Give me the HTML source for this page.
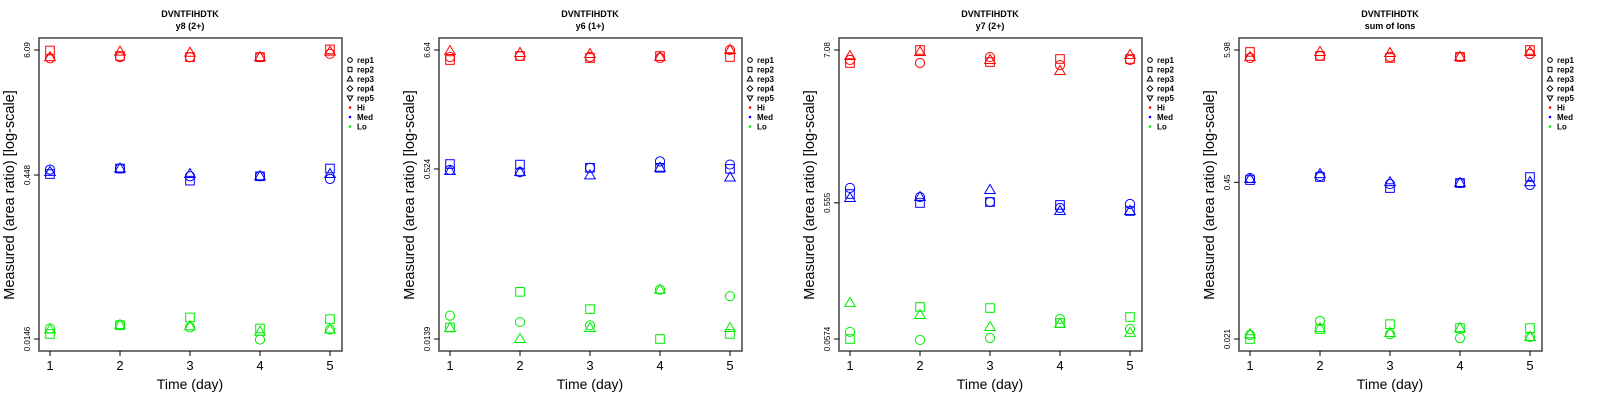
<!DOCTYPE html>
<html><head><meta charset="utf-8"><style>
html,body{margin:0;padding:0;background:#fff;}
svg{display:block;font-family:"Liberation Sans",sans-serif;}
</style></head><body>
<svg id="chart" width="1600" height="400" viewBox="0 0 1600 400" xmlns="http://www.w3.org/2000/svg"></svg>
<script>
// Panel metadata
const panelTitles = ["y8 (2+)", "y6 (1+)", "y7 (2+)", "sum of Ions"];
const yTickLabels = [["6.09","0.448","0.0146"],["6.64","0.524","0.0139"],["7.08","0.555","0.0574"],["5.98","0.45","0.021"]];
const yTickValues = [[6.09,0.448,0.0146],[6.64,0.524,0.0139],[7.08,0.555,0.0574],[5.98,0.45,0.021]];
const days = [1,2,3,4,5];
const levels = ["Hi","Med","Lo"];
const reps = ["rep1","rep2","rep3"];
// log10(area ratio): [panel][level][rep][day]
const p1Hi = [[.71,.72,.72,.72,.75],[.78,.73,.72,.72,.79],[.72,.77,.76,.72,.77]];
const p1Med = [[-.30,-.29,-.36,-.36,-.385],[-.34,-.29,-.40,-.36,-.29],[-.32,-.29,-.34,-.36,-.34]];
const p1Lo = [[-1.74,-1.71,-1.73,-1.84,-1.75],[-1.79,-1.71,-1.64,-1.74,-1.655],[-1.75,-1.71,-1.72,-1.77,-1.75]];
const p2Hi = [[.757,.766,.757,.748,.822],[.729,.766,.748,.766,.757],[.813,.794,.785,.757,.822]];
const p2Med = [[-.29,-.31,-.27,-.21,-.24],[-.235,-.24,-.27,-.27,-.28],[-.30,-.31,-.34,-.27,-.36]];
const p2Lo = [[-1.64,-1.70,-1.73,-1.40,-1.46],[-1.75,-1.42,-1.58,-1.857,-1.81],[-1.755,-1.857,-1.755,-1.40,-1.755]];
const p3Hi = [[.778,.756,.799,.741,.778],[.756,.850,.763,.785,.785],[.807,.836,.778,.698,.814]];
const p3Med = [[-.148,-.214,-.250,-.293,-.264],[-.192,-.257,-.250,-.271,-.315],[-.221,-.214,-.163,-.315,-.315]];
const p3Lo = [[-1.190,-1.248,-1.234,-1.096,-1.169],[-1.241,-1.009,-1.017,-1.125,-1.082],[-.980,-1.067,-1.154,-1.132,-1.197]];
const p4Hi = [[.709,.726,.718,.718,.743],[.760,.726,.709,.718,.777],[.718,.760,.751,.718,.760]];
const p4Med = [[-.311,-.294,-.362,-.353,-.370],[-.328,-.302,-.396,-.353,-.302],[-.319,-.277,-.345,-.353,-.345]];
const p4Lo = [[-1.644,-1.525,-1.637,-1.670,-1.661],[-1.678,-1.593,-1.552,-1.585,-1.585],[-1.637,-1.585,-1.627,-1.585,-1.661]];
const panelData = [[p1Hi,p1Med,p1Lo],[p2Hi,p2Med,p2Lo],[p3Hi,p3Med,p3Lo],[p4Hi,p4Med,p4Lo]];
const levelColors = ["#ff0000","#0000ff","#00ee00"];

const NS = "http://www.w3.org/2000/svg";
const svg = document.getElementById("chart");
function mk(tag, attrs, parent, text){
  const e = document.createElementNS(NS, tag);
  for (const k in attrs) e.setAttribute(k, attrs[k]);
  if (text !== undefined) e.textContent = text;
  parent.appendChild(e);
  return e;
}
function drawMarker(g, shape, cx, cy, color){
  let e;
  if (shape === 0) e = mk("circle",{cx:cx,cy:cy,r:4.6,fill:"none",stroke:color,"stroke-width":1},g);
  else if (shape === 1) e = mk("rect",{x:cx-4.3,y:cy-4.3,width:8.6,height:8.6,fill:"none",stroke:color,"stroke-width":1},g);
  else e = mk("polygon",{points:`${cx},${cy-5.5} ${cx+5.3},${cy+3.5} ${cx-5.3},${cy+3.5}`,fill:"none",stroke:color,"stroke-width":1},g);
  return e;
}
panelTitles.forEach((pt, p) => {
  const ox = p*400;
  const g = mk("g",{transform:`translate(${ox},0)`},svg);
  
  
  const t1 = mk("text",{x:190,y:17,"text-anchor":"middle","font-size":"9","font-weight":"bold"},g,"DVNTFIHDTK");
  
  
  const t2 = mk("text",{x:190,y:29,"text-anchor":"middle","font-size":"9","font-weight":"bold"},g,pt);
  
  
  const box = mk("rect",{x:39,y:38,width:303,height:313,fill:"none",stroke:"#444","stroke-width":1.5},g);
  
  
  const ymax = Math.log10(yTickValues[p][0]), ymin = Math.log10(yTickValues[p][2]);
  const yS = v => 50 + (ymax - v)/(ymax - ymin)*289;
  const xS = d => 50 + (d-1)*70;
  // y ticks
  yTickValues[p].forEach((tv,i) => {
    const y = yS(Math.log10(tv));
    mk("line",{x1:34,x2:39,y1:y,y2:y,stroke:"#000","stroke-width":1},g);
    const tl = mk("text",{x:0,y:0,transform:`translate(30,${y}) rotate(-90)`,"text-anchor":"middle","font-size":"8"},g,yTickLabels[p][i]);
    
    
  });
  days.forEach(d => {
    const x = xS(d);
    mk("line",{x1:x,x2:x,y1:351,y2:356,stroke:"#000","stroke-width":1},g);
    const tl = mk("text",{x:x,y:370,"text-anchor":"middle","font-size":"13"},g,String(d));
    
    
  });
  const xt = mk("text",{x:190,y:389,"text-anchor":"middle","font-size":"14"},g,"Time (day)");
  
  
  const yt = mk("text",{x:0,y:0,transform:"translate(14,195) rotate(-90)","text-anchor":"middle","font-size":"14.5"},g,"Measured (area ratio) [log-scale]");
  
  
  // points
  panelData[p].forEach((lvl, li) => {
    lvl.forEach((series, ri) => {
      series.forEach((v, di) => {
        const m = drawMarker(g, ri, xS(days[di]), yS(v), levelColors[li]);
        
        
      });
    });
  });
  // legend
  const lg = mk("g",{},g);
  
  
  const legLabels = ["rep1","rep2","rep3","rep4","rep5","Hi","Med","Lo"];
  legLabels.forEach((lab,i) => {
    const y = 60 + i*9.5;
    const sx = 350;
    if (i===0) mk("circle",{cx:sx,cy:y,r:2.3,fill:"none",stroke:"#000","stroke-width":1},lg);
    else if (i===1) mk("rect",{x:sx-2,y:y-2.2,width:4,height:4.4,fill:"none",stroke:"#000","stroke-width":1},lg);
    else if (i===2) mk("polygon",{points:`${sx},${y-2.8} ${sx+2.7},${y+2} ${sx-2.7},${y+2}`,fill:"none",stroke:"#000","stroke-width":1},lg);
    else if (i===3) mk("polygon",{points:`${sx},${y-2.8} ${sx+2.8},${y} ${sx},${y+2.8} ${sx-2.8},${y}`,fill:"none",stroke:"#000","stroke-width":1},lg);
    else if (i===4) mk("polygon",{points:`${sx},${y+2.8} ${sx+2.7},${y-2} ${sx-2.7},${y-2}`,fill:"none",stroke:"#000","stroke-width":1},lg);
    else mk("circle",{cx:sx,cy:y,r:1.3,fill:levelColors[i-5]},lg);
    const lt = mk("text",{x:357,y:y+3,"font-size":"8","font-weight":"bold"},lg,lab);
    
    
  });
});
</script>
</body></html>
